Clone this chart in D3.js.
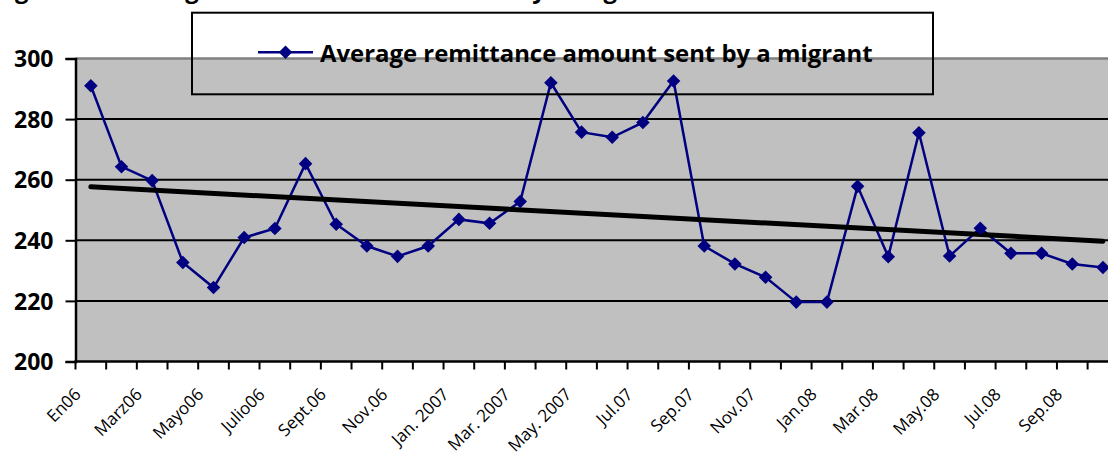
<!DOCTYPE html>
<html><head><meta charset="utf-8">
<script src="https://cdn.jsdelivr.net/npm/d3@7"></script>
<style>body{margin:0;background:#fff;overflow:hidden} svg{display:block;overflow:hidden}</style>
</head><body>
<svg id="chart" width="1108" height="458"></svg>
<script>
// ---------- data ----------
const months = ["En06","Feb06","Marz06","Abr06","Mayo06","Jun06","Julio06","Ago06","Sept.06","Oct.06","Nov.06","Dic.06",
  "Jan. 2007","Feb. 2007","Mar. 2007","Apr. 2007","May. 2007","Jun.07","Jul.07","Aug.07","Sep.07","Oct.07","Nov.07","Dec.07",
  "Jan.08","Feb.08","Mar.08","Apr.08","May.08","Jun.08","Jul.08","Aug.08","Sep.08","Oct.08"];
const tickLabels = ["En06","Marz06","Mayo06","Julio06","Sept.06","Nov.06","Jan. 2007","Mar. 2007","May. 2007",
  "Jul.07","Sep.07","Nov.07","Jan.08","Mar.08","May.08","Jul.08","Sep.08"];
const values = [291, 264.3, 259.7, 232.7, 224.4, 240.9, 243.9, 265.3, 245.3, 238.1, 234.7, 238.1,
  246.9, 245.6, 252.8, 292, 275.7, 274, 278.9, 292.6, 238.1, 232.2, 227.8, 219.6,
  219.6, 257.8, 234.6, 275.5, 234.8, 244, 235.7, 235.7, 232.2, 231];
const yTicks = [200, 220, 240, 260, 280, 300];
const seriesName = "Average remittance amount sent by a migrant";
const titleText = "Figure 10. Average remittance amount sent by a migrant";

// ---------- layout ----------
const plot = {left: 75.5, top: 58.5, bottom: 361.5, band: 30.67};
const svg = d3.select("#chart");
const FONT = "'Open Sans', 'DejaVu Sans', sans-serif";
const x = d3.scaleBand().domain(months)
  .range([plot.left, plot.left + plot.band * months.length]).padding(0);
const y = d3.scaleLinear().domain([200, 300]).range([plot.bottom, plot.top]);
const cx = m => x(m) + x.bandwidth() / 2;
const xEnd = x.range()[1];

// plot area
svg.append("rect").attr("x", plot.left).attr("y", plot.top)
  .attr("width", xEnd - plot.left).attr("height", plot.bottom - plot.top)
  .attr("fill", "#c0c0c0");
svg.append("line").attr("x1", plot.left).attr("x2", xEnd)
  .attr("y1", y(300)).attr("y2", y(300))
  .attr("stroke", "#808080").attr("stroke-width", 2.5);
svg.selectAll("line.grid").data(yTicks.filter(v => v > 200 && v < 300)).join("line")
  .attr("class", "grid")
  .attr("x1", plot.left).attr("x2", xEnd)
  .attr("y1", d => y(d)).attr("y2", d => y(d))
  .attr("stroke", "#000").attr("stroke-width", 2);

// y axis
const yAxis = svg.append("g").attr("transform", `translate(${plot.left},0)`)
  .call(d3.axisLeft(y).tickValues(yTicks).tickSize(10).tickPadding(12).tickFormat(d3.format("d")));
yAxis.select(".domain").attr("stroke", "#000").attr("stroke-width", 2.5);
yAxis.selectAll(".tick line").attr("stroke", "#000").attr("stroke-width", 2);
yAxis.selectAll(".tick text").attr("font-family", FONT).attr("font-size", 23)
  .attr("font-weight", "bold").attr("fill", "#000").attr("dy", "0.36em");

// x axis
svg.append("line").attr("x1", plot.left - 1).attr("x2", xEnd)
  .attr("y1", plot.bottom).attr("y2", plot.bottom)
  .attr("stroke", "#000").attr("stroke-width", 2.5);
const bounds = months.map(m => x(m)).concat([xEnd]);
svg.selectAll("line.xtick").data(bounds).join("line").attr("class", "xtick")
  .attr("x1", d => d).attr("x2", d => d)
  .attr("y1", plot.bottom).attr("y2", plot.bottom + 8)
  .attr("stroke", "#000").attr("stroke-width", 2);
svg.selectAll("text.xlab").data(tickLabels).join("text").attr("class", "xlab")
  .attr("transform", (d, i) => `translate(${cx(months[i * 2]) - 9},${plot.bottom + 34}) rotate(-45)`)
  .attr("text-anchor", "end")
  .attr("font-family", FONT).attr("font-size", 17).attr("fill", "#000")
  .text(d => d);

// series
const pts = values.map((v, i) => [cx(months[i]), y(v)]);
svg.append("path").attr("d", d3.line()(pts))
  .attr("fill", "none").attr("stroke", "#000080").attr("stroke-width", 2.5);

// linear trend (least squares over category index)
const n = values.length;
const mx = d3.mean(values, (v, i) => i), my = d3.mean(values);
const slope = d3.sum(values, (v, i) => (i - mx) * (v - my)) / d3.sum(values, (v, i) => (i - mx) * (i - mx));
const icpt = my - slope * mx;
svg.append("line")
  .attr("x1", cx(months[0])).attr("y1", y(icpt))
  .attr("x2", cx(months[n - 1])).attr("y2", y(icpt + slope * (n - 1)))
  .attr("stroke", "#000").attr("stroke-width", 5).attr("stroke-linecap", "round");

const diamond = d3.symbol(d3.symbolSquare, 92)();
svg.selectAll("path.mk").data(pts).join("path").attr("class", "mk")
  .attr("d", diamond)
  .attr("transform", d => `translate(${d[0]},${d[1]}) rotate(45)`)
  .attr("fill", "#000080");

// legend
const lg = svg.append("g");
lg.append("rect").attr("x", 192).attr("y", 12.7).attr("width", 741).attr("height", 81.6)
  .attr("fill", "none").attr("stroke", "#000").attr("stroke-width", 2);
lg.append("line").attr("x1", 258).attr("x2", 313).attr("y1", 52.3).attr("y2", 52.3)
  .attr("stroke", "#000080").attr("stroke-width", 2.5);
lg.append("path").attr("d", diamond).attr("transform", "translate(285.5,52.3) rotate(45)").attr("fill", "#000080");
const lt = lg.append("text").attr("x", 320).attr("y", 61.7)
  .attr("font-family", FONT).attr("font-weight", "bold").attr("font-size", 22).attr("fill", "#000")
  .text(seriesName);
const fs = 22 * 553 / lt.node().getComputedTextLength();
lt.attr("font-size", fs);

// title (mostly above the visible area, as in the reference)
const tt = svg.append("text").attr("x", 0).attr("y", -2.5)
  .attr("font-family", FONT).attr("font-weight", "bold").attr("font-size", fs).attr("fill", "#000")
  .text(titleText);
const gi = titleText.indexOf("Average") + 4;
const ext = tt.node().getExtentOfChar(gi);
tt.attr("x", 178 - (ext.x + ext.width / 2));
</script>
</body></html>
